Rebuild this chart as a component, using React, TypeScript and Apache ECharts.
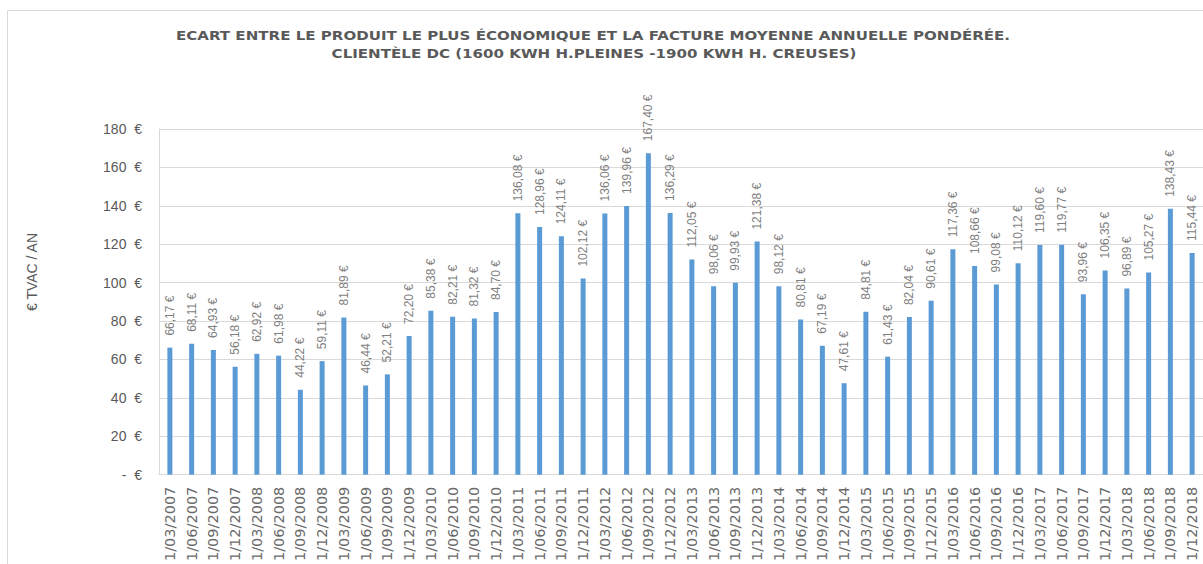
import React, { useEffect, useRef } from 'react';
import * as echarts from 'echarts';

const titleLine1 = 'ECART ENTRE LE PRODUIT LE PLUS ÉCONOMIQUE ET LA FACTURE MOYENNE ANNUELLE PONDÉRÉE.';
const titleLine2 = 'CLIENTÈLE DC (1600 KWH H.PLEINES -1900 KWH H. CREUSES)';
const yAxisName = '€ TVAC / AN';

const categories = [
  '1/03/2007', '1/06/2007', '1/09/2007', '1/12/2007',
  '1/03/2008', '1/06/2008', '1/09/2008', '1/12/2008',
  '1/03/2009', '1/06/2009', '1/09/2009', '1/12/2009',
  '1/03/2010', '1/06/2010', '1/09/2010', '1/12/2010',
  '1/03/2011', '1/06/2011', '1/09/2011', '1/12/2011',
  '1/03/2012', '1/06/2012', '1/09/2012', '1/12/2012',
  '1/03/2013', '1/06/2013', '1/09/2013', '1/12/2013',
  '1/03/2014', '1/06/2014', '1/09/2014', '1/12/2014',
  '1/03/2015', '1/06/2015', '1/09/2015', '1/12/2015',
  '1/03/2016', '1/06/2016', '1/09/2016', '1/12/2016',
  '1/03/2017', '1/06/2017', '1/09/2017', '1/12/2017',
  '1/03/2018', '1/06/2018', '1/09/2018', '1/12/2018',
];

const ecart = [
  66.17, 68.11, 64.93, 56.18,
  62.92, 61.98, 44.22, 59.11,
  81.89, 46.44, 52.21, 72.2,
  85.38, 82.21, 81.32, 84.7,
  136.08, 128.96, 124.11, 102.12,
  136.06, 139.96, 167.4, 136.29,
  112.05, 98.06, 99.93, 121.38,
  98.12, 80.81, 67.19, 47.61,
  84.81, 61.43, 82.04, 90.61,
  117.36, 108.66, 99.08, 110.12,
  119.6, 119.77, 93.96, 106.35,
  96.89, 105.27, 138.43, 115.44,
];

const yMin = 0;
const yMax = 180;
const yStep = 20;

const fmtEuro = (v: number) => v.toFixed(2).replace('.', ',') + ' €';
const fmtTick = (v: number) => (v === 0 ? '-  €' : v + '  €');

export default function App() {
  const ref = useRef<HTMLDivElement>(null);
  useEffect(() => {
    const chart = echarts.init(ref.current!, null, { renderer: 'svg' });
    chart.setOption({
      animation: false,
      backgroundColor: '#ffffff',
      grid: { left: 159, top: 129, width: 1045, height: 347, containLabel: false },
      graphic: [
        { type: 'line', shape: { x1: 7.5, y1: 10.5, x2: 1203, y2: 10.5 }, style: { stroke: '#d9d9d9', lineWidth: 1 } },
        { type: 'line', shape: { x1: 7.5, y1: 10.5, x2: 7.5, y2: 564 }, style: { stroke: '#d9d9d9', lineWidth: 1 } },
        {
          type: 'text', x: 593, y: 35, scaleX: 1.16,
          style: { text: titleLine1, fill: '#595959', font: 'bold 13px "DejaVu Sans"', textAlign: 'center', textVerticalAlign: 'middle' },
        },
        {
          type: 'text', x: 594, y: 53, scaleX: 1.16,
          style: { text: titleLine2, fill: '#595959', font: 'bold 13px "DejaVu Sans"', textAlign: 'center', textVerticalAlign: 'middle' },
        },
        {
          type: 'text', x: 32, y: 272, rotation: Math.PI / 2,
          style: { text: yAxisName, fill: '#595959', font: '14px "Liberation Sans"', textAlign: 'center', textVerticalAlign: 'middle' },
        },
      ],
      xAxis: {
        type: 'category',
        data: categories,
        axisTick: { show: false },
        axisLine: { lineStyle: { color: '#d9d9d9', width: 1 } },
        axisLabel: {
          interval: 0, rotate: 90, margin: 12, color: '#6a6a6a',
          fontFamily: 'DejaVu Sans', fontSize: 14.5,
        },
      },
      yAxis: {
        type: 'value',
        min: yMin, max: yMax, interval: yStep,
        axisLine: { show: true, lineStyle: { color: '#d9d9d9', width: 1 } },
        axisTick: { show: false },
        splitLine: { lineStyle: { color: '#d9d9d9', width: 1 } },
        axisLabel: {
          formatter: fmtTick, margin: 17, color: '#595959',
          fontFamily: 'Liberation Sans', fontSize: 14,
        },
      },
      series: [
        {
          type: 'bar',
          data: ecart,
          barWidth: 5,
          itemStyle: { color: '#5b9bd5' },
          label: {
            show: true, position: 'top', rotate: 90, align: 'left', verticalAlign: 'middle',
            distance: 12, color: '#7f7f7f', fontFamily: 'Liberation Sans', fontSize: 12,
            formatter: (p: any) => fmtEuro(p.value),
          },
        },
      ],
    });
    return () => chart.dispose();
  }, []);
  return <div ref={ref} style={{ position: 'absolute', left: 0, top: 0, width: 1203, height: 564 }} />;
}
